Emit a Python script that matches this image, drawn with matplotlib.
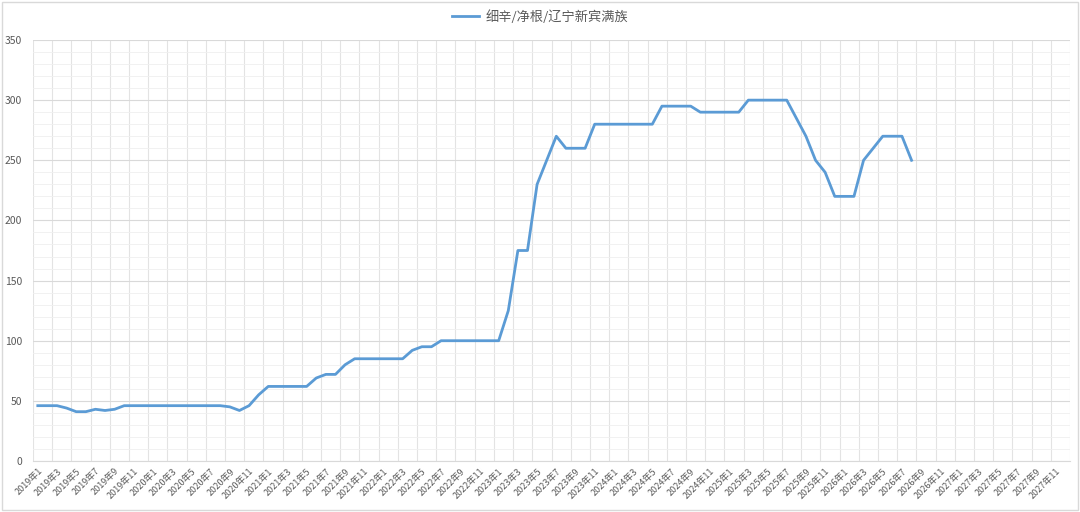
import matplotlib
matplotlib.use("Agg")
import matplotlib.pyplot as plt
from matplotlib.patches import Rectangle
from matplotlib.ticker import MultipleLocator

plt.rcParams["font.family"] = ["Noto Sans CJK SC", "DejaVu Sans"]

# 横轴：2019年1 ~ 2027年12，按月
years = [2019, 2020, 2021, 2022, 2023, 2024, 2025, 2026, 2027]
months = [f"{y}年{m}" for y in years for m in range(1, 13)]

series_name = "细辛/净根/辽宁新宾满族"
# 2019年1 ~ 2026年8 月度价格
prices = [
    46, 46, 46, 44, 41, 41, 43, 42, 43, 46, 46, 46,   # 2019
    46, 46, 46, 46, 46, 46, 46, 46, 45, 42, 46, 55,   # 2020
    62, 62, 62, 62, 62, 69, 72, 72, 80, 85, 85, 85,   # 2021
    85, 85, 85, 92, 95, 95, 100, 100, 100, 100, 100, 100,  # 2022
    100, 125, 175, 175, 230, 250, 270, 260, 260, 260, 280, 280,  # 2023
    280, 280, 280, 280, 280, 295, 295, 295, 295, 290, 290, 290,  # 2024
    290, 290, 300, 300, 300, 300, 300, 285, 270, 250, 240, 220,  # 2025
    220, 220, 250, 260, 270, 270, 270, 250,   # 2026
]

LINE_C = "#5B9BD5"
TXT_C = "#595959"

fig = plt.figure(figsize=(10.8, 5.12), dpi=100)
fig.patches.append(Rectangle((0.002, 0.003), 0.996, 0.994, transform=fig.transFigure,
                             fill=False, ec="#d9d9d9", lw=1.0))
ax = fig.add_axes([33 / 1080, 1 - 461 / 512, 1037 / 1080, 421 / 512])

x = list(range(len(prices)))
line, = ax.plot(x, prices, color=LINE_C, lw=2.0, solid_joinstyle="round", zorder=3)

ax.set_xlim(-0.5, len(months) - 0.5)
ax.set_ylim(0, 350)

# 网格
ax.yaxis.set_major_locator(MultipleLocator(50))
ax.yaxis.set_minor_locator(MultipleLocator(10))
ax.grid(which="major", axis="y", color="#d9d9d9", lw=0.8)
ax.grid(which="minor", axis="y", color="#efefef", lw=0.6)
for b in range(0, len(months) + 1, 2):
    ax.axvline(b - 0.5, color="#e3e3e3", lw=0.8, zorder=0)
ax.set_axisbelow(True)

ax.set_xticks(range(0, len(months), 2))
ax.set_xticklabels(months[::2], rotation=45, ha="right", rotation_mode="anchor",
                   fontsize=6.5, color=TXT_C)
ax.tick_params(axis="x", length=0, pad=4)
ax.tick_params(axis="y", which="both", length=0, labelsize=7.5, labelcolor=TXT_C, pad=8)

for s in ("left", "right", "top"):
    ax.spines[s].set_visible(False)
ax.spines["bottom"].set_color("#d9d9d9")

fig.legend([line], [series_name], loc="center", bbox_to_anchor=(0.5, 1 - 17 / 512),
           frameon=False, fontsize=9.5, labelcolor=TXT_C, handlelength=2.0,
           handletextpad=0.5)

fig.savefig("out.png", dpi=100)
